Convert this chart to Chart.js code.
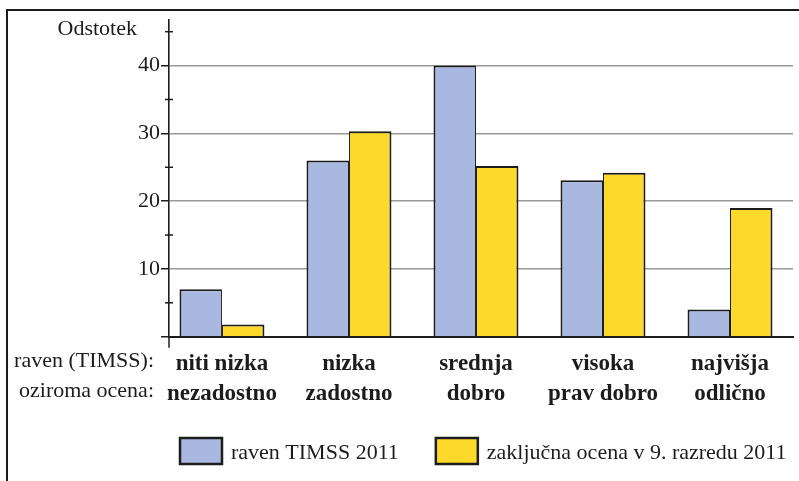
<!DOCTYPE html>
<html>
<head>
<meta charset="utf-8">
<script src="https://cdn.jsdelivr.net/npm/chart.js@4/dist/chart.umd.min.js"></script>
<style>
  html, body { margin: 0; padding: 0; background: #fff; }
  canvas { display: block; }
</style>
</head>
<body>
<canvas id="barChart" width="799" height="481"></canvas>
<script>
// Data (percent of pupils)
const levels = ['niti nizka', 'nizka', 'srednja', 'visoka', 'najvišja'];
const grades = ['nezadostno', 'zadostno', 'dobro', 'prav dobro', 'odlično'];
const timssValues = [7, 26, 40, 23.1, 4];
const gradeValues = [1.8, 30.3, 25.2, 24.2, 19];
const seriesNames = ['raven TIMSS 2011', 'zaključna ocena v 9. razredu 2011'];
const rowNames = ['raven (TIMSS):', 'oziroma ocena:'];
const yTitle = 'Odstotek';

const SERIF = '"Liberation Serif", "Times New Roman", serif';
const INK = '#1c1c1c';
const BLUE = '#a9b8e1';
const YELLOW = '#fdd92c';

// frame, minor ticks, row captions, axis title and the legend
const extras = {
  id: 'extras',
  beforeDraw(chart) {
    const ctx = chart.ctx;
    ctx.save();
    ctx.fillStyle = '#fff';
    ctx.fillRect(0, 0, chart.width, chart.height);
    ctx.strokeStyle = INK;
    ctx.lineWidth = 2;
    ctx.beginPath();
    ctx.moveTo(7, chart.height + 2);
    ctx.lineTo(7, 10);
    ctx.lineTo(chart.width + 2, 10);
    ctx.stroke();
    ctx.restore();
  },
  afterDraw(chart) {
    const {ctx, chartArea, scales} = chart;
    const y = scales.y;
    const left = chartArea.left;
    ctx.save();
    ctx.strokeStyle = INK;
    ctx.lineWidth = 1.5;

    // minor ticks crossing the axis
    y.ticks.forEach(t => {
      if (t.value % 10 !== 0) {
        const py = y.getPixelForValue(t.value);
        ctx.beginPath();
        ctx.moveTo(left - 4, py);
        ctx.lineTo(left + 4, py);
        ctx.stroke();
      }
    });
    // axis sticks out below zero
    ctx.beginPath();
    ctx.moveTo(left, chartArea.bottom);
    ctx.lineTo(left, chartArea.bottom + 11);
    ctx.stroke();

    ctx.fillStyle = INK;
    ctx.font = '22px ' + SERIF;
    ctx.textAlign = 'right';
    ctx.textBaseline = 'alphabetic';
    ctx.fillText(yTitle, left - 32, 35);

    ctx.textBaseline = 'middle';
    ctx.fillText(rowNames[0], left - 15, chartArea.bottom + 25);
    ctx.fillText(rowNames[1], left - 15, chartArea.bottom + 55);

    // legend
    ctx.font = '22px ' + SERIF;
    ctx.textAlign = 'left';
    ctx.textBaseline = 'alphabetic';
    let x = left + 11;
    chart.data.datasets.forEach(ds => {
      ctx.fillStyle = ds.backgroundColor;
      ctx.fillRect(x, 438, 42, 26);
      ctx.lineWidth = 2.5;
      ctx.strokeRect(x, 438, 42, 26);
      ctx.fillStyle = INK;
      ctx.fillText(ds.label, x + 51, 459);
      x += 51 + ctx.measureText(ds.label).width + 37;
    });
    ctx.restore();
  }
};

function drawChart() {
  new Chart(document.getElementById('barChart'), {
    type: 'bar',
    data: {
      datasets: [
        {
          label: seriesNames[0],
          data: timssValues.map((v, i) => ({x: i, y: v})),
          backgroundColor: BLUE,
          borderColor: INK,
          borderWidth: {top: 2, left: 2, right: 1, bottom: 0}
        },
        {
          label: seriesNames[1],
          data: gradeValues.map((v, i) => ({x: i, y: v})),
          backgroundColor: YELLOW,
          borderColor: INK,
          borderWidth: {top: 2, left: 1, right: 2, bottom: 0}
        }
      ]
    },
    options: {
      responsive: false,
      animation: false,
      categoryPercentage: 0.669,
      barPercentage: 1,
      layout: {padding: {top: 19.5, right: 6, left: 0, bottom: 0}},
      plugins: {legend: {display: false}, tooltip: {enabled: false}},
      scales: {
        x: {
          type: 'linear',
          offset: false,
          min: -0.417,
          max: 4.496,
          z: 1,
          afterFit(scale) { scale.height = 144.3; },
          grid: {display: false},
          border: {color: INK, width: 2},
          ticks: {
            stepSize: 1,
            includeBounds: false,
            autoSkip: false,
            maxRotation: 0,
            padding: 4,
            color: INK,
            font: {family: SERIF, size: 23, weight: 'bold', lineHeight: 30 / 23},
            callback: v => Number.isInteger(v) ? [levels[v], grades[v]] : ''
          }
        },
        y: {
          min: 0,
          max: 46.8,
          afterFit(scale) { scale.width = 169; },
          border: {color: INK, width: 1.6},
          grid: {
            color: c => (c.tick && c.tick.value % 10 === 0 && c.tick.value > 0) ? '#9a9a9a' : 'rgba(0,0,0,0)',
            lineWidth: 1.5,
            tickColor: c => (c.tick && c.tick.value % 10 === 0) ? INK : 'rgba(0,0,0,0)',
            tickLength: 8,
            tickWidth: 1.5
          },
          ticks: {
            stepSize: 5,
            includeBounds: false,
            padding: 1,
            color: INK,
            font: {family: SERIF, size: 22},
            callback: v => (v % 10 === 0 && v > 0) ? String(v) : ''
          }
        }
      }
    },
    plugins: [extras]
  });
}

drawChart();
</script>
</body>
</html>
